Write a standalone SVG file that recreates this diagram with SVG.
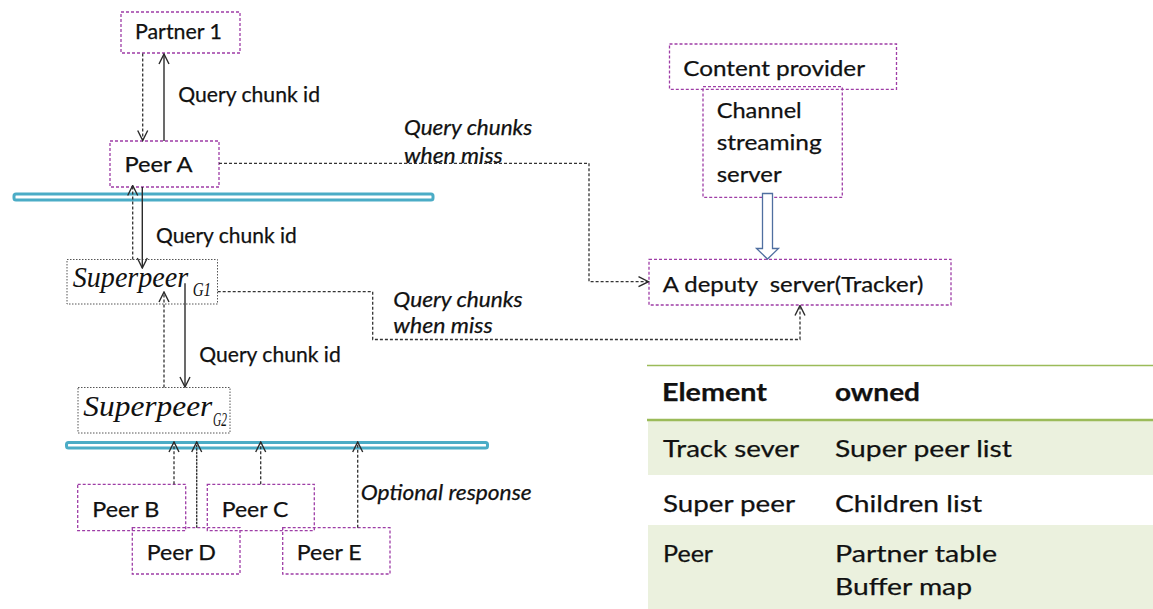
<svg xmlns="http://www.w3.org/2000/svg" width="1153" height="609" viewBox="0 0 1153 609">
  <defs>
    <style>
      .box { fill: none; stroke: #9E3DA6; stroke-width: 1.3; stroke-dasharray: 3 2; }
      .sbox { fill: none; stroke: #555; stroke-width: 1; stroke-dasharray: 1.5 1.5; }
      .lbl { font-family: Lato, "Liberation Sans", sans-serif; font-size: 21px; fill: #111; stroke: #111; stroke-width: 0.25; white-space: pre; }
      .it { font-style: italic; }
      .sp { font-family: "Liberation Serif", serif; font-style: italic; fill: #111; }
      .tbl { font-family: Lato, "Liberation Sans", sans-serif; font-size: 24px; fill: #111; stroke: #111; stroke-width: 0.25; }
      .hdr { font-weight: bold; }
      .solid { fill: none; stroke: #2b2b2b; stroke-width: 1.4; }
      .dash { fill: none; stroke: #333; stroke-width: 1.3; stroke-dasharray: 3 2; }
      .dense { fill: none; stroke: #333; stroke-width: 1.4; stroke-dasharray: 2.5 1; }
      .bus { fill: #fff; stroke: #4BACC6; stroke-width: 3; }
    </style>
    <marker id="head" viewBox="0 0 12 12" refX="11" refY="6" markerWidth="12" markerHeight="12" markerUnits="userSpaceOnUse" orient="auto">
      <path d="M1,1 L11,6 L1,11" fill="none" stroke="#2b2b2b" stroke-width="1.4" stroke-dasharray="none"/>
    </marker>
  </defs>

  <rect width="1153" height="609" fill="#fff"/>

  <!-- network buses -->
  <rect class="bus" x="14" y="194" width="419" height="6" rx="2"/>
  <rect class="bus" x="66.5" y="442.5" width="421" height="5.5" rx="2"/>

  <!-- table of owned elements -->
  <g id="table">
    <rect x="648" y="421" width="505" height="54" fill="#EBF1DE"/>
    <rect x="648" y="525" width="505" height="84" fill="#EBF1DE"/>
    <line x1="647" y1="365.5" x2="1153" y2="365.5" stroke="#9BBB59" stroke-width="1.5"/>
    <line x1="647" y1="420" x2="1153" y2="420" stroke="#9BBB59" stroke-width="2.5"/>
    <text class="tbl hdr" x="662" y="401" textLength="105" lengthAdjust="spacingAndGlyphs">Element</text>
    <text class="tbl hdr" x="835" y="401" textLength="85" lengthAdjust="spacingAndGlyphs">owned</text>
    <text class="tbl" x="663" y="457" textLength="136" lengthAdjust="spacingAndGlyphs">Track sever</text>
    <text class="tbl" x="835" y="457" textLength="177" lengthAdjust="spacingAndGlyphs">Super peer list</text>
    <text class="tbl" x="663" y="512" textLength="132" lengthAdjust="spacingAndGlyphs">Super peer</text>
    <text class="tbl" x="835" y="512" textLength="147" lengthAdjust="spacingAndGlyphs">Children list</text>
    <text class="tbl" x="663" y="562" textLength="50" lengthAdjust="spacingAndGlyphs">Peer</text>
    <text class="tbl" x="835" y="562" textLength="162" lengthAdjust="spacingAndGlyphs">Partner table</text>
    <text class="tbl" x="835" y="595" textLength="137" lengthAdjust="spacingAndGlyphs">Buffer map</text>
  </g>

  <!-- nodes -->
  <g id="partner1">
    <rect class="box" x="121" y="12" width="119" height="41"/>
    <text class="lbl" x="135" y="38.5" textLength="87" lengthAdjust="spacingAndGlyphs">Partner 1</text>
  </g>
  <g id="peerA">
    <rect class="box" x="110" y="141" width="109" height="46"/>
    <text class="lbl" x="124.5" y="172" textLength="68" lengthAdjust="spacingAndGlyphs">Peer A</text>
  </g>
  <g id="superpeerG1">
    <rect class="sbox" x="67" y="259.5" width="150.5" height="44.5"/>
    <text class="sp" x="72.7" y="287" font-size="29" textLength="115.6" lengthAdjust="spacingAndGlyphs">Superpeer</text>
    <text class="sp" x="192.7" y="295.5" font-size="19" textLength="18.5" lengthAdjust="spacingAndGlyphs">G1</text>
  </g>
  <g id="superpeerG2">
    <rect class="sbox" x="78" y="387.5" width="152" height="45.5"/>
    <text class="sp" x="83.3" y="415.5" font-size="29" textLength="129" lengthAdjust="spacingAndGlyphs">Superpeer</text>
    <text class="sp" x="213" y="426" font-size="19" textLength="14" lengthAdjust="spacingAndGlyphs">G2</text>
  </g>
  <g id="contentProvider">
    <rect class="box" x="669.5" y="44" width="227" height="45.3"/>
    <text class="lbl" x="683.3" y="75.5" textLength="181.7" lengthAdjust="spacingAndGlyphs">Content provider</text>
  </g>
  <g id="streamingServer">
    <rect class="box" x="703" y="86.7" width="139.3" height="110.6"/>
    <text class="lbl" x="716.7" y="117.5" textLength="85" lengthAdjust="spacingAndGlyphs">Channel</text>
    <text class="lbl" x="716.7" y="150" textLength="105" lengthAdjust="spacingAndGlyphs">streaming</text>
    <text class="lbl" x="716.7" y="182" textLength="65" lengthAdjust="spacingAndGlyphs">server</text>
  </g>
  <g id="tracker">
    <rect class="box" x="649" y="259.3" width="302" height="45.7"/>
    <text class="lbl" x="662.7" y="292" textLength="260.6" lengthAdjust="spacingAndGlyphs">A deputy  server(Tracker)</text>
  </g>
  <g id="peerB">
    <rect class="box" x="77.7" y="484.3" width="108" height="46.4"/>
    <text class="lbl" x="92.3" y="516.5" textLength="67" lengthAdjust="spacingAndGlyphs">Peer B</text>
  </g>
  <g id="peerC">
    <rect class="box" x="207.3" y="484.3" width="107" height="46.4"/>
    <text class="lbl" x="221.7" y="516.5" textLength="66.6" lengthAdjust="spacingAndGlyphs">Peer C</text>
  </g>
  <g id="peerD">
    <rect class="box" x="132.3" y="527.7" width="107.7" height="46.3"/>
    <text class="lbl" x="146.7" y="559.5" textLength="69.3" lengthAdjust="spacingAndGlyphs">Peer D</text>
  </g>
  <g id="peerE">
    <rect class="box" x="282.7" y="527.7" width="107.3" height="46.3"/>
    <text class="lbl" x="296.7" y="559.5" textLength="65" lengthAdjust="spacingAndGlyphs">Peer E</text>
  </g>

  <!-- connectors -->
  <g id="connectors">
    <!-- Partner 1 / Peer A -->
    <path class="dash" d="M142.7,53.5 V140.5" marker-end="url(#head)"/>
    <path class="solid" d="M164,141 V54" marker-end="url(#head)"/>
    <!-- Peer A / Superpeer G1 -->
    <path class="dash" d="M132.7,259.5 V185.5" marker-end="url(#head)"/>
    <path class="solid" d="M142.3,187 V268" marker-end="url(#head)"/>
    <!-- Superpeer G1 / Superpeer G2 -->
    <path class="dash" d="M164,387.5 V292" marker-end="url(#head)"/>
    <path class="solid" d="M185,283.3 V387" marker-end="url(#head)"/>
    <!-- misses forwarded to the tracker -->
    <path class="dash" d="M219,163.3 H589 V281.7 H648.5" marker-end="url(#head)"/>
    <path class="dash" d="M217.7,291.7 H372.7 V339.5 H800 V305.5" marker-end="url(#head)"/>
    <!-- streaming server feeds the tracker -->
    <path d="M762.5,193.5 V248.5 H756.5 L767.5,259 L778.5,248.5 H772.5 V193.5 Z" fill="#fff" stroke="#4F6FA0" stroke-width="1.3"/>
    <!-- responses from ordinary peers -->
    <path class="dash" d="M174,484.3 V442" marker-end="url(#head)"/>
    <path class="dense" d="M196.7,527.7 V442" marker-end="url(#head)"/>
    <path class="dash" d="M260.7,484.3 V442" marker-end="url(#head)"/>
    <path class="dash" d="M357.7,527.7 V442" marker-end="url(#head)"/>
  </g>

  <!-- connector labels -->
  <g id="labels">
    <text class="lbl" x="178.3" y="101.5" textLength="141.7" lengthAdjust="spacingAndGlyphs">Query chunk id</text>
    <text class="lbl" x="156" y="243.3" textLength="140.7" lengthAdjust="spacingAndGlyphs">Query chunk id</text>
    <text class="lbl" x="199.3" y="361.7" textLength="141.4" lengthAdjust="spacingAndGlyphs">Query chunk id</text>
    <text class="lbl it" x="404" y="135" textLength="128.3" lengthAdjust="spacingAndGlyphs">Query chunks</text>
    <text class="lbl it" x="404" y="162.7" textLength="98.7" lengthAdjust="spacingAndGlyphs">when miss</text>
    <text class="lbl it" x="393.3" y="306.7" textLength="129.4" lengthAdjust="spacingAndGlyphs">Query chunks</text>
    <text class="lbl it" x="393.3" y="333.3" textLength="99.4" lengthAdjust="spacingAndGlyphs">when miss</text>
    <text class="lbl it" x="360.7" y="500" textLength="171" lengthAdjust="spacingAndGlyphs">Optional response</text>
  </g>
</svg>
